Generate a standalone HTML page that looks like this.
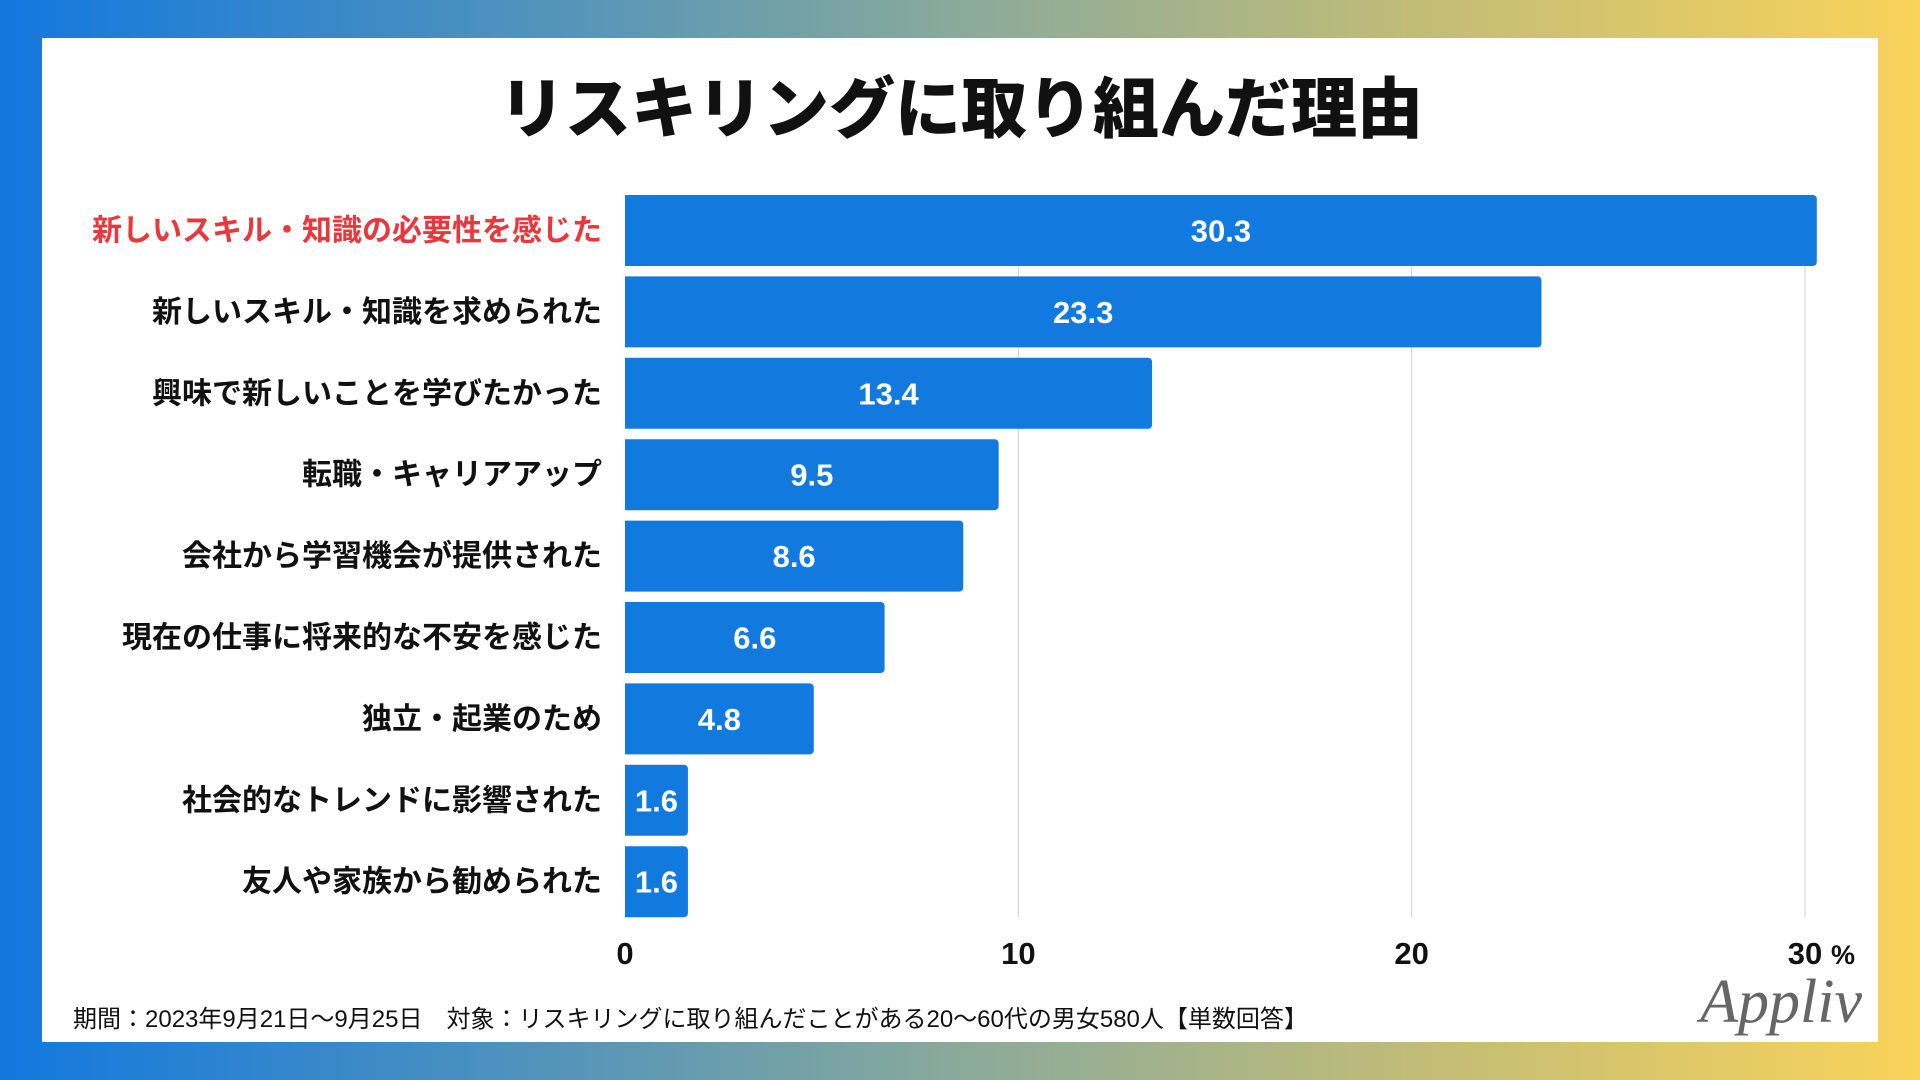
<!DOCTYPE html>
<html lang="ja"><head><meta charset="utf-8">
<style>
html,body{margin:0;padding:0;width:1920px;height:1080px;overflow:hidden}
body{background:linear-gradient(90deg,#1278df 0%,#4a90c0 25%,#8aaa9a 50%,#c4bd76 75%,#f9d35a 100%);font-family:"Liberation Sans","Noto Sans CJK JP",sans-serif}
#panel{position:absolute;left:42px;top:38px;width:1836px;height:1004px;background:#fff}
svg{position:absolute;left:0;top:0}
</style></head>
<body>
<div id="panel"></div>
<svg id="chart" width="1920" height="1080">
<text x="961" y="132" text-anchor="middle" font-size="66" font-weight="900" fill="#111" font-family="Liberation Sans, Noto Sans CJK JP, sans-serif">リスキリングに取り組んだ理由</text>
<g id="grid"></g><g id="bars"></g><g id="xticks"></g>
<text x="73" y="1027" font-size="24" fill="#111" font-family="Liberation Sans, Noto Sans CJK JP, sans-serif">期間：2023年9月21日〜9月25日　対象：リスキリングに取り組んだことがある20〜60代の男女580人【単数回答】</text>
<text x="1862" y="1022" text-anchor="end" font-size="62" font-style="italic" fill="#666" font-family="Liberation Serif, serif">Appliv</text>
</svg>
<script>
const cats=["新しいスキル・知識の必要性を感じた","新しいスキル・知識を求められた","興味で新しいことを学びたかった","転職・キャリアアップ","会社から学習機会が提供された","現在の仕事に将来的な不安を感じた","独立・起業のため","社会的なトレンドに影響された","友人や家族から勧められた"];
const vals=[30.3,23.3,13.4,9.5,8.6,6.6,4.8,1.6,1.6];
const ticks=[0,10,20,30];
const NS="http://www.w3.org/2000/svg";
const x0=625,xScale=(1805-625)/30,yTop=195,pitch=81.4,bh=71;
const xs=v=>x0+v*xScale;
const ys=i=>yTop+i*pitch;
function mk(t,a,p){const e=document.createElementNS(NS,t);for(const k in a)e.setAttribute(k,a[k]);p.appendChild(e);return e;}
const grid=document.getElementById('grid'),bars=document.getElementById('bars'),xt=document.getElementById('xticks');
ticks.forEach(t=>{if(t>0){const l=mk('line',{x1:xs(t),x2:xs(t),y1:yTop,y2:ys(cats.length-1)+bh,stroke:'#d0d0d0','stroke-width':1},grid);

}
const tx=mk('text',{x:xs(t),y:964,'text-anchor':'middle','font-size':31,'font-weight':'bold',fill:'#111'},xt);
tx.textContent=t;

});
const pc=mk('text',{x:xs(30)+26,y:964,'font-size':27,'font-weight':'bold',fill:'#111'},xt);pc.textContent='%';


cats.forEach((c,i)=>{const y=ys(i),w=xs(vals[i])-x0;
const r=mk('path',{d:`M${x0},${y}h${w-4}a4,4 0 0 1 4,4v${bh-8}a4,4 0 0 1 -4,4h${-(w-4)}z`,fill:'#127adf'},bars);


const v=mk('text',{x:x0+w/2,y:y+bh/2+11,'text-anchor':'middle','font-size':31,'font-weight':'bold',fill:'#fff'},bars);
v.textContent=vals[i].toFixed(1);


const l=mk('text',{x:602,y:y+bh/2+10,'text-anchor':'end','font-size':30,'font-weight':'bold',fill:i===0?'#e8383d':'#111'},bars);
l.textContent=c;

});
</script>
</body></html>
